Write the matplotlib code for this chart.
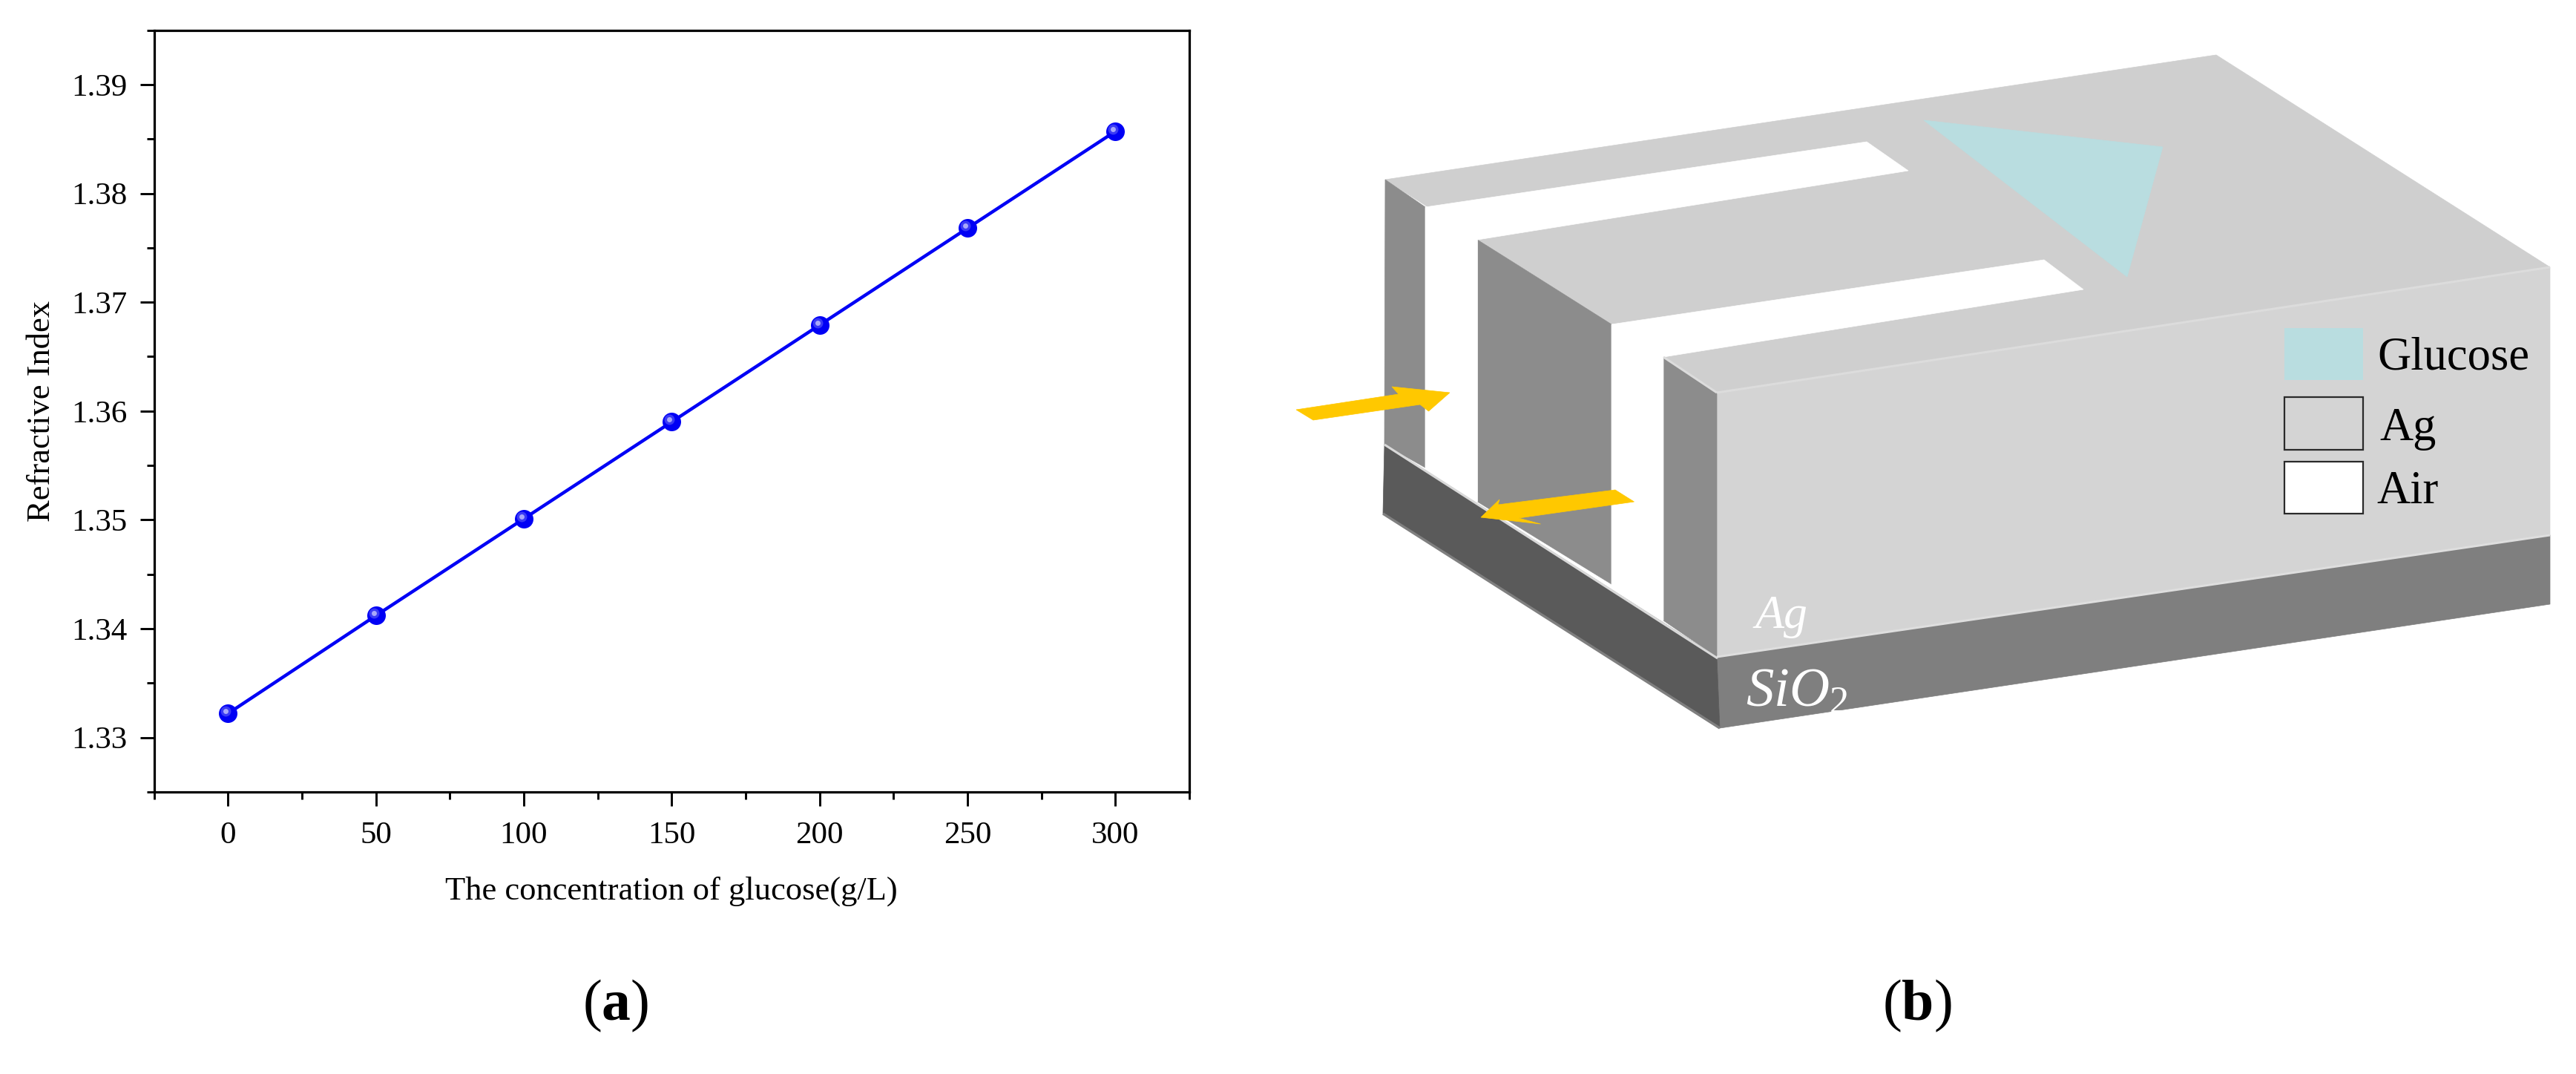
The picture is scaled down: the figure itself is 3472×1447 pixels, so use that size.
import matplotlib
matplotlib.use("Agg")
import matplotlib.pyplot as plt
from matplotlib.patches import Polygon, Rectangle
from matplotlib.ticker import MultipleLocator
from matplotlib.transforms import ScaledTranslation

plt.rcParams['font.family'] = ['Liberation Serif', 'DejaVu Serif']
plt.rcParams['mathtext.fontset'] = 'custom'
plt.rcParams['mathtext.rm'] = 'Liberation Serif'
plt.rcParams['mathtext.it'] = 'Liberation Serif:italic'
plt.rcParams['mathtext.bf'] = 'Liberation Serif:bold'

W, H = 3472, 1447

# panel (a) data
glucose = [0, 50, 100, 150, 200, 250, 300]
refractive_index = [1.3322, 1.3412, 1.3501, 1.3590, 1.3679, 1.3768, 1.3857]
x_ticks = [0, 50, 100, 150, 200, 250, 300]
y_ticks = [1.33, 1.34, 1.35, 1.36, 1.37, 1.38, 1.39]
y_tick_labels = ["1.33", "1.34", "1.35", "1.36", "1.37", "1.38", "1.39"]

# panel (b) legend
legend_names = ["Glucose", "Ag", "Air"]

fig = plt.figure(figsize=(W / 100, H / 100), dpi=100, facecolor="white")

# --- panel (a)
ax = fig.add_axes([207.5 / W, (H - 1067) / H, 1395.5 / W, 1026.4 / H])
ax.plot(glucose, refractive_index, color="#0000f5", lw=3.2, zorder=2)
ax.plot(glucose, refractive_index, ls="none", marker="o", ms=18, color="#0000f5", mew=0, zorder=3)
# little highlight on the balls
hl = ax.transData + ScaledTranslation(-3 / 100, 3 / 100, fig.dpi_scale_trans)
ax.plot(glucose, refractive_index, ls="none", marker="o", ms=10, color="#3a3af5", mew=0, transform=hl, zorder=4)
ax.plot(glucose, refractive_index, ls="none", marker="o", ms=5, color="#a8a8fa", mew=0, transform=hl, zorder=5)

ax.set_xlim(-25, 325)
ax.set_ylim(1.325, 1.395)
ax.set_xticks(x_ticks)
ax.set_yticks(y_ticks)
ax.set_yticklabels(y_tick_labels)
ax.xaxis.set_minor_locator(MultipleLocator(25))
ax.yaxis.set_minor_locator(MultipleLocator(0.005))
ax.tick_params(which="major", length=13.5, width=2.1, labelsize=31)
ax.tick_params(which="minor", length=7, width=2.1)
ax.tick_params(axis="x", which="major", pad=15)
ax.tick_params(axis="y", which="major", pad=12.5)
for s in ax.spines.values():
    s.set_linewidth(2.3)
ax.set_xlabel("The concentration of glucose(g/L)", fontsize=32)
ax.set_ylabel("Refractive Index", fontsize=32)
ax.xaxis.set_label_coords(0.5, -0.111)
ax.yaxis.set_label_coords(-0.094, 0.5)

# --- panel (b), overlay in pixel coordinates
ov = fig.add_axes([0, 0, 1, 1], facecolor="none")
ov.set_xlim(0, W)
ov.set_ylim(H, 0)
ov.axis("off")


def poly(pts, color, z=1):
    ov.add_patch(Polygon(pts, closed=True, facecolor=color, edgecolor=color, lw=0.5, zorder=z))


def edge(p, q, color, lw=2.2, z=3):
    ov.plot([p[0], q[0]], [p[1], q[1]], color=color, lw=lw, solid_capstyle="butt", zorder=z)


# top face
poly([(1867, 242), (2987, 74), (3437, 360), (2314, 529)], "#cfcfcf")
# right face
poly([(2314, 529), (3437, 360), (3437, 721), (2314, 885)], "#d4d4d4")
# substrate
poly([(2314, 885), (3437, 721), (3437, 814), (2318, 981)], "#7f7f7f")
poly([(1866, 599), (2314, 885), (2318, 981), (1864, 692)], "#5a5a5a")
edge((1864, 692), (2318, 981), "#7f7f7f", lw=2.5)

# slot walls
poly([(1867, 242), (1921, 279), (1921, 630), (1866, 599)], "#8c8c8c", 2)
poly([(1991.5, 323), (2172, 437), (2172, 787), (1991.5, 676)], "#8c8c8c", 2)
poly([(2242, 481), (2314, 529), (2314, 885), (2242, 836)], "#8c8c8c", 2)
# air channels
poly([(1921, 279), (2516, 191), (2572, 230), (1991.5, 323), (1991.5, 676), (1921, 630)], "white", 2)
poly([(2172, 437), (2755, 350), (2808, 390), (2242, 481), (2242, 836), (2172, 787)], "white", 2)

# glucose triangle
poly([(2593, 162), (2915, 198), (2867, 373)], "#b9dde0", 2)

# light edges of the block
edge((1866, 599), (2315, 887), "#d9d9d9")
edge((2314, 529), (3437, 360), "#dcdcdc")
edge((2242, 481), (2314, 529), "#dcdcdc")
edge((2314, 885), (3437, 721), "#dedede")

# arrows
poly([(1747, 552), (1885, 531), (1876, 521), (1954, 529), (1925.5, 554), (1914, 545), (1770, 566)], "#ffc800", 5)
poly([(1996, 697), (2021, 673), (2019, 680), (2177, 660), (2202.5, 676), (2047, 698), (2076.5, 706)], "#ffc800", 5)

# legend
ov.add_patch(Rectangle((3079, 442), 106, 70, facecolor="#b9dde0", edgecolor="none", zorder=4))
ov.add_patch(Rectangle((3079, 535), 106, 71, facecolor="#d4d4d4", edgecolor="#2a2a2a", lw=1.6, zorder=4))
ov.add_patch(Rectangle((3079, 622), 106, 70, facecolor="white", edgecolor="#2a2a2a", lw=1.6, zorder=4))
for name, xp, yp in zip(legend_names, [3204, 3207, 3203], [498, 593, 678]):
    ov.text(xp, yp, name, fontsize=45, color="black", ha="left", va="baseline", zorder=6)

# labels on the block
ov.text(2366, 846, "Ag", fontsize=46, style="italic", color="white", ha="left", va="baseline", zorder=6)
ov.text(2353, 952, r"$SiO_2$", fontsize=54, color="white", ha="left", va="baseline", zorder=6)

# panel letters
ov.text(830, 1355, r"($\mathbf{a}$)", fontsize=56, color="black", ha="center", va="center")
ov.text(2584, 1355, r"($\mathbf{b}$)", fontsize=56, color="black", ha="center", va="center")

fig.savefig("out.png", dpi=100)
